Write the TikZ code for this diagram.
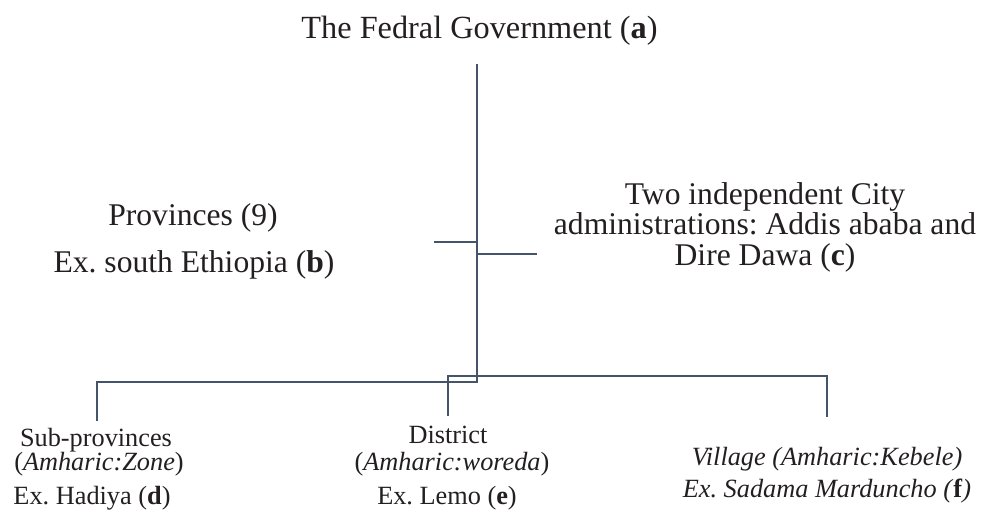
\documentclass[tikz,border=0pt]{standalone}
\usepackage{fontspec}
\setmainfont{Liberation Serif}
\frenchspacing
\definecolor{ln}{HTML}{44546A}
\definecolor{txt}{HTML}{231F20}
\begin{document}
\begin{tikzpicture}[x=1pt,y=-1pt,
  conn/.style={draw=ln, line width=1.3pt},
  big/.style={font=\fontsize{31.6}{34}\selectfont, anchor=base, inner sep=0pt, text=txt},
  small/.style={font=\fontsize{26.3}{28}\selectfont, anchor=base, inner sep=0pt, text=txt}]
\useasboundingbox (0,0) rectangle (981,519);

\node[big,font=\fontsize{32.3}{34}\selectfont] (a) at (479.5,38) {The Fedral Government (\textbf{a})};
\node[big] (b1) at (193,225) {Provinces (9)};
\node[big] (b2) at (194,272) {Ex. south Ethiopia (\textbf{b})};
\node[big] (c1) at (765,204) {Two independent City};
\node[big] (c2) at (765,234) {administrations: Addis ababa and};
\node[big] (c3) at (765,265) {Dire Dawa (\textbf{c})};

\node[small] (d1) at (96,446) {Sub-provinces};
\node[small] (d2) at (99,470) {(\textit{Amharic:Zone})};
\node[small] (d3) at (92,504) {Ex. Hadiya (\textbf{d})};
\node[small] (e1) at (448,443) {District};
\node[small] (e2) at (452,470) {(\textit{Amharic:woreda})};
\node[small] (e3) at (447,504) {Ex. Lemo (\textbf{e})};
\node[small] (f1) at (827,465) {\textit{Village (Amharic:Kebele)}};
\node[small] (f2) at (827,497) {\textit{Ex. Sadama Marduncho (}\textbf{f}\textit{)}};

\coordinate (top) at (477,64);
\coordinate (hub) at (477,382);
\coordinate (lstub) at (434,242);
\coordinate (rstub) at (537,254);
\coordinate (dl) at (97,421);
\coordinate (rbar) at (448,376);
\coordinate (dm) at (448,416);
\coordinate (dr) at (827,417);

\draw[conn] (top) -- (hub) -| (dl);
\draw[conn] (dm) -- (rbar) -| (dr);
\draw[conn] (lstub) -- (lstub -| top);
\draw[conn] (rstub) -- (rstub -| top);
\end{tikzpicture}
\end{document}
